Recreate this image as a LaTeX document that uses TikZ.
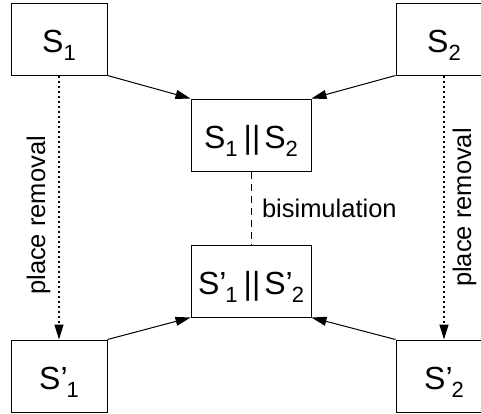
\documentclass[tikz,border=0pt]{standalone}
\usepackage{fontspec}
\setmainfont{Liberation Sans}
\usepackage{tikz}
\usetikzlibrary{arrows.meta,positioning}
\newcommand{\lowsub}[1]{\raisebox{-8pt}{\fontsize{22pt}{22pt}\selectfont #1}}
\tikzset{
  net/sys/.style={draw, line width=1pt, minimum width=96pt, minimum height=72pt, inner sep=0pt,
    text height=26pt, text depth=0pt, font=\fontsize{32pt}{36pt}\selectfont},
  net/comp/.style={net/sys, minimum width=120pt},
  net/label/.style={font=\fontsize{25.5pt}{30pt}\selectfont, inner sep=8pt},
  arr/.style={-{Triangle[length=15pt,width=9pt]}, line width=1pt},
  arr/rm/.style={arr, line width=1.3pt, dash pattern=on 2pt off 3pt},
  bisim/.style={line width=1pt, dash pattern=on 7pt off 5pt}
}

\begin{document}
\begin{tikzpicture}[x=1pt, y=-1pt]
  \clip (0,0) rectangle (481,413);
  % original systems and their composition
  \node[net/sys] (s1) at (59,39) {S\lowsub{1}};
  \node[net/sys, right=288pt of s1] (s2) {S\lowsub{2}};
  \node[net/comp] (par) at (251,135) {S\lowsub{1}\hspace{6pt}||\hspace{4pt}S\lowsub{2}};
  % reduced systems
  \node[net/comp, below=73pt of par] (parr) {S’\kern-1pt\lowsub{1}\hspace{6pt}||\hspace{4pt}S’\kern-1pt\lowsub{2}};
  \node[net/sys, below=264pt of s1] (s1r) {S’\kern-1pt\lowsub{1}};
  \node[net/sys, below=264pt of s2] (s2r) {S’\kern-1pt\lowsub{2}};

  \draw[arr] (s1.south east) -- (par.north west);
  \draw[arr] (s2.south west) -- (par.north east);
  \draw[arr] (s1r.north east) -- (parr.south west);
  \draw[arr] (s2r.north west) -- (parr.south east);

  \draw[arr/rm] (s1) -- node[net/label, rotate=90, anchor=south, pos=0.53] {place removal} (s1r);
  \draw[arr/rm] (s2) -- node[net/label, rotate=90, anchor=north] {place removal} (s2r);
  \draw[bisim] (par) -- node[net/label, anchor=west, inner sep=10.5pt] {bisimulation} (parr);
\end{tikzpicture}
\end{document}
